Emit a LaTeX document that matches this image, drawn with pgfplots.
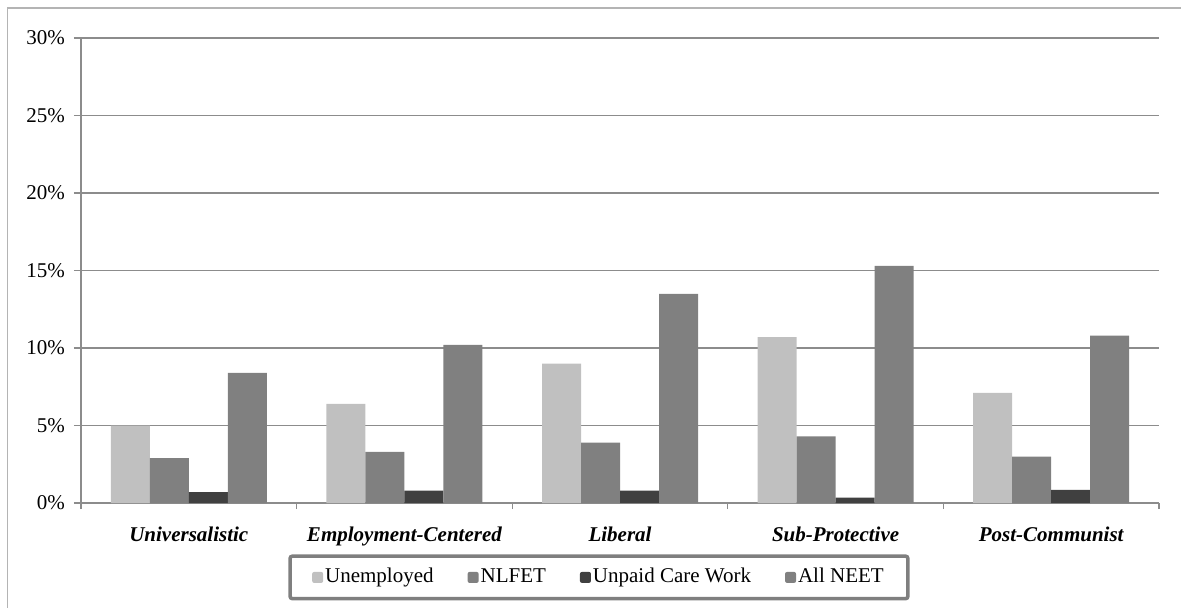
\documentclass[border=0pt]{standalone}
\usepackage{fontspec}
\setmainfont{Liberation Serif}
\usepackage{pgfplots}
\pgfplotsset{compat=1.18}
\definecolor{cUnemp}{HTML}{C0C0C0}
\definecolor{cNLFET}{HTML}{808080}
\definecolor{cCare}{HTML}{404040}
\definecolor{cAll}{HTML}{808080}
\definecolor{gridc}{HTML}{8C8C8C}
\definecolor{framec}{HTML}{B4B4B4}
\definecolor{legc}{HTML}{7F7F7F}
\pgfplotsset{sqleg/.style={legend image code/.code={\fill[##1,draw=none] (0pt,-2.75pt) rectangle (5.5pt,2.75pt);}}}
\begin{document}
\begin{tikzpicture}
\useasboundingbox (0,0) rectangle (590.5pt,-303.5pt);
\draw[framec, line width=0.6pt] (3.65pt,-320pt) -- (3.65pt,-4pt) -- (600pt,-4pt);
\begin{axis}[
  at={(40.5pt,-251.5pt)}, anchor=south west,
  scale only axis, width=539pt, height=232.5pt,
  xmin=-0.5, xmax=4.5, ymin=0, ymax=30,
  ybar=0pt, bar width=19.5pt,
  axis x line*=bottom, axis y line*=left,
  axis line style={gridc, line width=0.6pt, -},
  ytick={0,5,...,30},
  yticklabels={0\%,5\%,10\%,15\%,20\%,25\%,30\%},
  ymajorgrids, grid style={gridc, line width=0.6pt},
  xtick={0,...,4},
  xticklabels={Universalistic,Employment-Centered,Liberal,Sub-Protective,Post-Communist},
  minor xtick={-0.5,0.5,...,4.5},
  major x tick style={draw=none},
  tick style={gridc, line width=0.6pt},
  tick align=outside,
  major tick length=3.5pt, minor tick length=3pt,
  ticklabel style={font=\fontsize{10.5}{12}\selectfont},
  xticklabel style={font=\fontsize{10.5}{12}\selectfont\bfseries\itshape, yshift=-5pt},
  yticklabel style={xshift=-1pt},
  legend columns=4,
  legend style={at={(0.4805,-0.160)}, anchor=center, draw=legc, line width=1.75pt,
    rounded corners=1pt, font=\fontsize{10.5}{12}\selectfont,
    inner xsep=11pt, inner ysep=4pt,
    /tikz/every even column/.append style={column sep=16pt},
    nodes={inner xsep=1pt, text height=1.55ex, text depth=0.45ex}},
]
\addplot[fill=cUnemp, draw=none, sqleg] coordinates {(0,5.0) (1,6.4) (2,9.0) (3,10.7) (4,7.1)};
\addplot[fill=cNLFET, draw=none, sqleg] coordinates {(0,2.9) (1,3.3) (2,3.9) (3,4.3) (4,3.0)};
\addplot[fill=cCare, draw=none, sqleg] coordinates {(0,0.7) (1,0.8) (2,0.8) (3,0.35) (4,0.85)};
\addplot[fill=cAll, draw=none, sqleg] coordinates {(0,8.4) (1,10.2) (2,13.5) (3,15.3) (4,10.8)};
\legend{Unemployed,NLFET,Unpaid Care Work,All NEET}
\end{axis}
\end{tikzpicture}
\end{document}
